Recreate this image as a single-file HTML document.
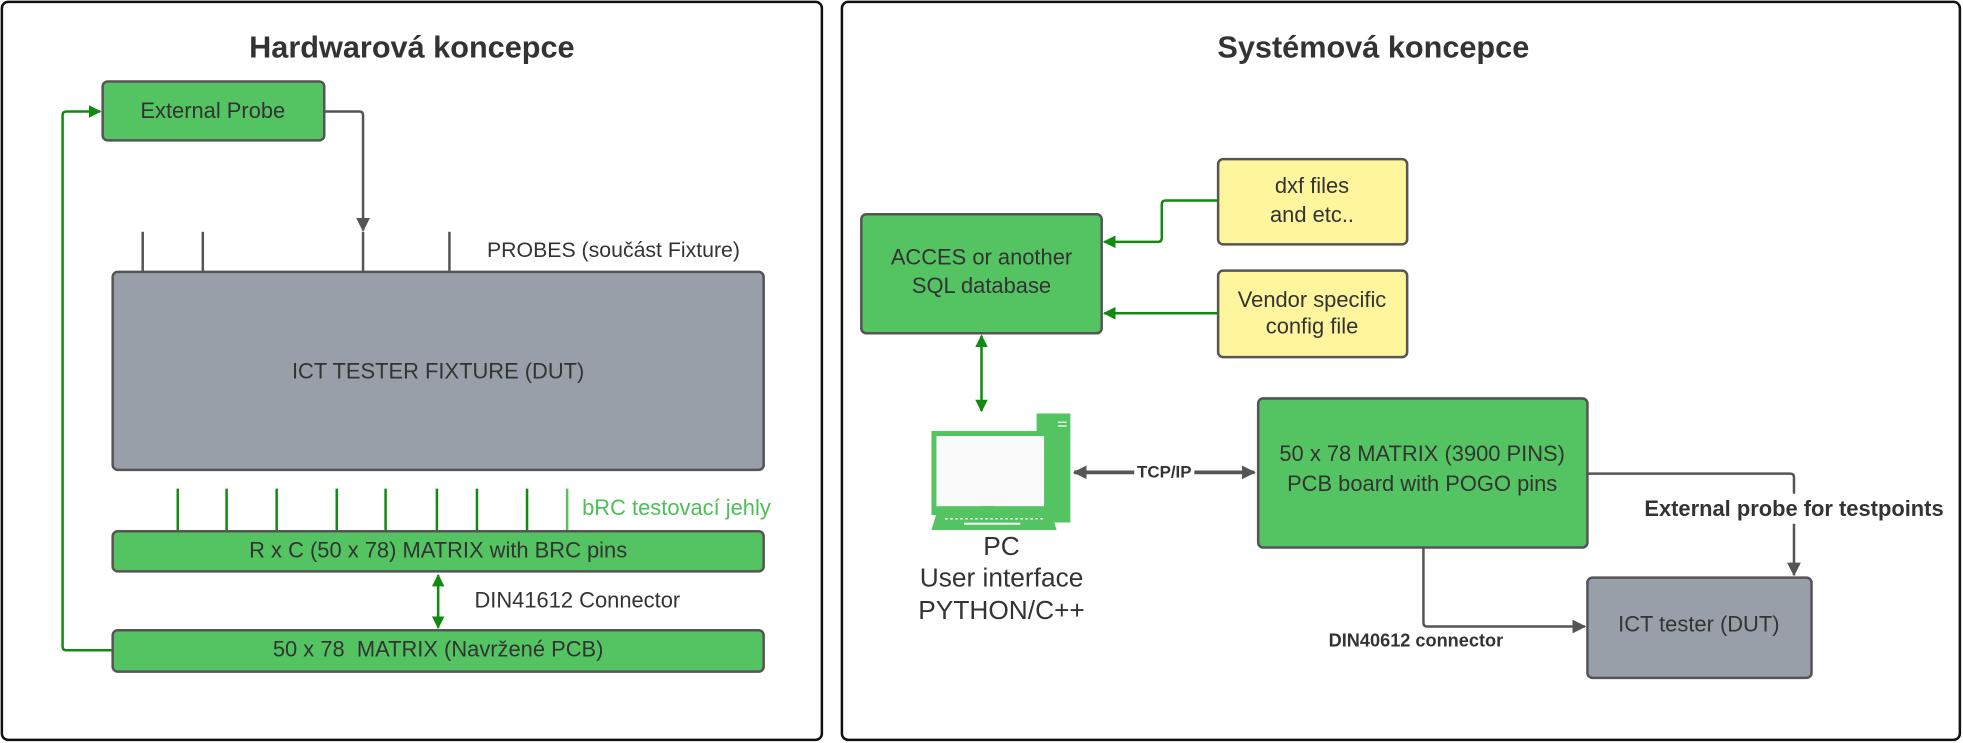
<!DOCTYPE html>
<html><head><meta charset="utf-8"><style>
html,body{margin:0;padding:0;background:#fff;}
svg{display:block;}
text{font-family:"Liberation Sans",sans-serif;fill:#333;}
</style></head><body>
<svg width="1963" height="743" viewBox="0 0 1568 593" preserveAspectRatio="none" xmlns="http://www.w3.org/2000/svg">
<defs>
<marker id="ag" markerWidth="10" markerHeight="10" refX="9" refY="5" orient="auto-start-reverse" markerUnits="userSpaceOnUse"><path d="M0,0 L10,5 L0,10 Z" fill="#118a11"/></marker>
<marker id="agr" markerWidth="11" markerHeight="11" refX="10" refY="5.5" orient="auto-start-reverse" markerUnits="userSpaceOnUse"><path d="M0,0 L11,5.5 L0,11 Z" fill="#555"/></marker>
</defs>
<rect x="1.5" y="1.5" width="655" height="589" rx="5" fill="#fff" stroke="#111" stroke-width="2"/>
<rect x="672.5" y="1.5" width="893" height="589" rx="5" fill="#fff" stroke="#111" stroke-width="2"/>

<text x="329" y="46" font-size="24.5" font-weight="bold" text-anchor="middle">Hardwarová koncepce</text>
<rect x="82" y="65" width="177" height="47" rx="4" fill="#54c462" stroke="#555" stroke-width="2"/>
<text x="170" y="94" font-size="17.5" text-anchor="middle">External Probe</text>
<path d="M259,89 H287 Q290,89 290,92 V184" fill="none" stroke="#555" stroke-width="2" marker-end="url(#agr)"/>
<g stroke="#555" stroke-width="2"><line x1="114" y1="185" x2="114" y2="217"/><line x1="162" y1="185" x2="162" y2="217"/><line x1="290" y1="185" x2="290" y2="217"/><line x1="359" y1="185" x2="359" y2="217"/></g>
<text x="389" y="205" font-size="17">PROBES (součást Fixture)</text>
<rect x="90" y="217" width="520" height="158" rx="4" fill="#999fa8" stroke="#555" stroke-width="2"/>
<text x="350" y="302" font-size="17.5" text-anchor="middle">ICT TESTER FIXTURE (DUT)</text>
<g stroke="#118a11" stroke-width="2"><line x1="142" y1="390" x2="142" y2="423"/><line x1="181" y1="390" x2="181" y2="423"/><line x1="221" y1="390" x2="221" y2="423"/><line x1="269" y1="390" x2="269" y2="423"/><line x1="308" y1="390" x2="308" y2="423"/><line x1="349" y1="390" x2="349" y2="423"/><line x1="381" y1="390" x2="381" y2="423"/><line x1="421" y1="390" x2="421" y2="423"/></g>
<line x1="453" y1="390" x2="453" y2="423" stroke="#58c35e" stroke-width="2"/>
<text x="465" y="411" font-size="17.5" style="fill:#4cbf55">bRC testovací jehly</text>
<rect x="90" y="424" width="520" height="32" rx="4" fill="#54c462" stroke="#555" stroke-width="2"/>
<text x="350" y="445" font-size="17.5" text-anchor="middle">R x C (50 x 78) MATRIX with BRC pins</text>
<line x1="350" y1="459" x2="350" y2="501" stroke="#118a11" stroke-width="2" marker-start="url(#ag)" marker-end="url(#ag)"/>
<text x="379" y="485" font-size="17.5">DIN41612 Connector</text>
<rect x="90" y="503" width="520" height="33" rx="4" fill="#54c462" stroke="#555" stroke-width="2"/>
<text x="350" y="524" font-size="17.5" text-anchor="middle" xml:space="preserve">50 x 78  MATRIX (Navržené PCB)</text>
<path d="M90,519 H53 Q50,519 50,516 V92 Q50,89 53,89 H80" fill="none" stroke="#118a11" stroke-width="2" marker-end="url(#ag)"/>

<text x="1097" y="46" font-size="24.5" font-weight="bold" text-anchor="middle">Systémová koncepce</text>
<rect x="688" y="171" width="192" height="95" rx="4" fill="#54c462" stroke="#555" stroke-width="2"/>
<text x="784" y="211" font-size="17.5" text-anchor="middle">ACCES or another</text>
<text x="784" y="234" font-size="17.5" text-anchor="middle">SQL database</text>
<rect x="973" y="127" width="151" height="68" rx="4" fill="#fff59d" stroke="#555" stroke-width="2"/>
<text x="1048" y="154" font-size="17.5" text-anchor="middle">dxf files</text>
<text x="1048" y="177" font-size="17.5" text-anchor="middle">and etc..</text>
<rect x="973" y="216" width="151" height="69" rx="4" fill="#fff59d" stroke="#555" stroke-width="2"/>
<text x="1048" y="245" font-size="17.5" text-anchor="middle">Vendor specific</text>
<text x="1048" y="266" font-size="17.5" text-anchor="middle">config file</text>
<path d="M973,160 H931 Q928,160 928,163 V190 Q928,193 925,193 H882" fill="none" stroke="#118a11" stroke-width="2" marker-end="url(#ag)"/>
<path d="M973,250 H882" fill="none" stroke="#118a11" stroke-width="2" marker-end="url(#ag)"/>
<line x1="784" y1="268" x2="784" y2="328" stroke="#118a11" stroke-width="2" marker-start="url(#ag)" marker-end="url(#ag)"/>
<!-- PC icon -->
<rect x="828" y="330" width="27" height="87" fill="#54c462"/>
<line x1="845" y1="337" x2="852" y2="337" stroke="#fff" stroke-width="1"/>
<line x1="845" y1="340" x2="852" y2="340" stroke="#fff" stroke-width="1"/>
<rect x="744" y="344" width="97" height="67" fill="#54c462"/>
<rect x="748" y="348" width="86" height="56" fill="#fafafa"/>
<rect x="784" y="404" width="10" height="6" fill="#54c462"/>
<path d="M748,410 H840 L844,423 H744 Z" fill="#54c462"/>
<line x1="755" y1="414" x2="835" y2="414" stroke="#fff" stroke-width="1.2" stroke-dasharray="2,2"/>
<line x1="770" y1="418" x2="815" y2="418" stroke="#fff" stroke-width="1.5"/>
<text x="800" y="443" font-size="21" text-anchor="middle">PC</text>
<text x="800" y="468" font-size="21" text-anchor="middle">User interface</text>
<text x="800" y="494" font-size="21" text-anchor="middle">PYTHON/C++</text>
<line x1="858" y1="377" x2="1002" y2="377" stroke="#555" stroke-width="3" marker-start="url(#agr)" marker-end="url(#agr)"/>
<rect x="906" y="368" width="48" height="14" fill="#fff"/>
<text x="930" y="381" font-size="13.5" font-weight="bold" text-anchor="middle">TCP/IP</text>
<rect x="1005" y="318" width="263" height="119" rx="4" fill="#54c462" stroke="#555" stroke-width="2"/>
<text x="1136" y="368" font-size="17.5" text-anchor="middle">50 x 78 MATRIX (3900 PINS)</text>
<text x="1136" y="392" font-size="17.5" text-anchor="middle">PCB board with POGO pins</text>
<path d="M1268,378 H1430 Q1433,378 1433,381 V459" fill="none" stroke="#555" stroke-width="2" marker-end="url(#agr)"/>
<rect x="1310" y="394" width="248" height="24" fill="#fff"/>
<text x="1433" y="412" font-size="17.5" font-weight="bold" text-anchor="middle">External probe for testpoints</text>
<path d="M1137,437 V497 Q1137,500 1140,500 H1266" fill="none" stroke="#555" stroke-width="2" marker-end="url(#agr)"/>
<text x="1131" y="516" font-size="14.5" font-weight="bold" text-anchor="middle">DIN40612 connector</text>
<rect x="1268" y="461" width="179" height="80" rx="4" fill="#999fa8" stroke="#555" stroke-width="2"/>
<text x="1357" y="504" font-size="17.5" text-anchor="middle">ICT tester (DUT)</text>
</svg>
</body></html>
